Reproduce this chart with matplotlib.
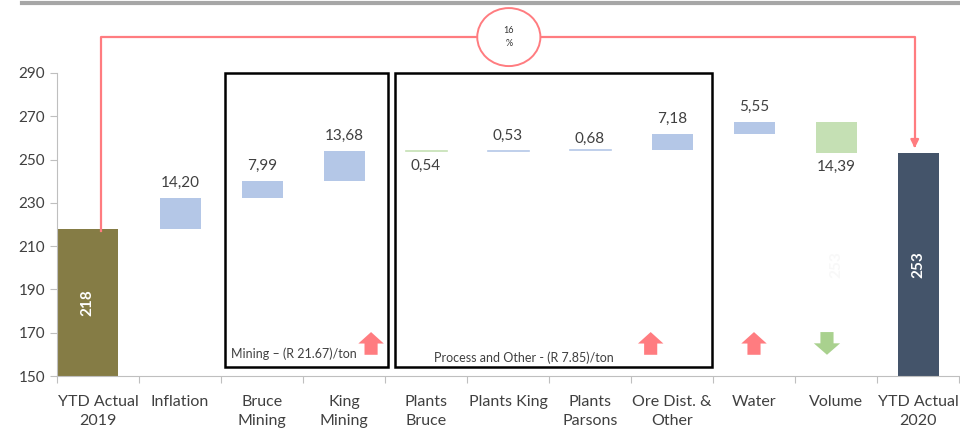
import matplotlib
matplotlib.use("Agg")
from matplotlib import pyplot as plt
from matplotlib.patches import Rectangle, Ellipse, FancyArrow

plt.rcParams['font.family'] = ['Lato', 'DejaVu Sans']

categories = ["YTD Actual\n2019", "Inflation", "Bruce\nMining", "King\nMining",
              "Plants\nBruce", "Plants King", "Plants\nParsons", "Ore Dist. &\nOther",
              "Water", "Volume", "YTD Actual\n2020"]
start_value = 218
end_value = 253
deltas = [14.20, 7.99, 13.68, -0.54, 0.53, 0.68, 7.18, 5.55, -14.39]
delta_labels = ["14,20", "7,99", "13,68", "0,54", "0,53", "0,68", "7,18", "5,55", "14,39"]
growth_label = "16\n%"
mining_note = "Mining – (R 21.67)/ton"
process_note = "Process and Other - (R 7.85)/ton"
# direction markers under the driver columns
arrow_dirs = ['up', 'up', 'up', 'down']

text_col = '#404040'
blue = '#b4c7e7'
green = '#c5e0b4'
red = '#ff7c80'
arrow_green = '#a9d18e'

fig = plt.figure(figsize=(9.6, 4.3), dpi=100)
ax = fig.add_axes([57 / 960, 54 / 430, 902 / 960, 303 / 430])
ax.set_xlim(-0.5, 10.5)
ax.set_ylim(150, 290)

# start and end totals
ax.bar(-0.125, start_value - 150, bottom=150, width=0.73, color='#857c45', zorder=2)
ax.bar(10, end_value - 150, bottom=150, width=0.5, color='#44546a', zorder=2)
ax.text(-0.125, (start_value + 150) / 2, str(start_value), rotation=90, color='white',
        ha='center', va='center', fontsize=11, fontweight='bold')
ax.text(10, (end_value + 150) / 2, str(end_value), rotation=90, color='white',
        ha='center', va='center', fontsize=11, fontweight='bold')
# hidden total label left behind on the volume column
ax.text(9, (end_value + 150) / 2, str(end_value), rotation=90, color='#f8f8f8',
        ha='center', va='center', fontsize=11, fontweight='bold')

# floating delta bars
level = start_value
for i, (d, lab) in enumerate(zip(deltas, delta_labels), start=1):
    lo, hi = min(level, level + d), max(level, level + d)
    col = blue if d > 0 else green
    h = hi - lo
    if h < 1:
        ax.plot([i - 0.25, i + 0.25], [hi, hi], color=col, lw=1.2, zorder=2)
    else:
        ax.bar(i, h, bottom=lo, width=0.5, color=col, zorder=2)
    if d > 0:
        off = 3 if h < 1 and i == 6 else 6
        ax.annotate(lab, (i, hi), xytext=(0, off), textcoords='offset points',
                    ha='center', va='bottom', fontsize=11, color=text_col)
    else:
        ax.annotate(lab, (i, lo), xytext=(0, -5), textcoords='offset points',
                    ha='center', va='top', fontsize=11, color=text_col)
    level += d

# group boxes
ax.add_patch(Rectangle((1.55, 154.2), 1.99, 135.8, fill=False, ec='black', lw=1.8,
                       zorder=3, clip_on=False))
ax.add_patch(Rectangle((3.62, 154.2), 3.87, 135.8, fill=False, ec='black', lw=1.8,
                       zorder=3, clip_on=False))
ax.text(1.62, 160.3, mining_note, fontsize=9, color=text_col, va='center', ha='left')
ax.text(4.1, 158.6, process_note, fontsize=9, color=text_col, va='center', ha='left')

# driver arrows
arrow_x = [3.33, 6.74, 8.0, 8.89]
for x, direction in zip(arrow_x, arrow_dirs):
    if direction == 'up':
        ax.add_patch(FancyArrow(x, 159.8, 0, 10.5, width=0.16, head_width=0.31,
                                head_length=5.3, length_includes_head=True,
                                color=red, lw=0, zorder=4))
    else:
        ax.add_patch(FancyArrow(x, 170.3, 0, -10.5, width=0.16, head_width=0.32,
                                head_length=5.3, length_includes_head=True,
                                color=arrow_green, lw=0, zorder=4))

# growth bracket
top_y = 306.6
ax.plot([0.037, 0.037, 4.63], [217.0, top_y, top_y], color=red, lw=1.6,
        clip_on=False, zorder=5)
ax.plot([5.39, 9.96, 9.96], [top_y, top_y, 257.5], color=red, lw=1.6,
        clip_on=False, zorder=5)
ax.annotate('', xy=(9.96, 254.0), xytext=(9.96, 258.5),
            arrowprops=dict(arrowstyle='-|>', color=red, lw=1.6, mutation_scale=12),
            annotation_clip=False)
ax.add_patch(Ellipse((5.01, top_y), 0.77, 26.8, fill=True, fc='white', ec=red,
                     lw=1.4, clip_on=False, zorder=6))
ax.text(5.01, top_y, growth_label, ha='center', va='center', fontsize=6.5,
        color='#333333', zorder=7, linespacing=1.6)

# top rule
fig.add_artist(plt.Line2D([22 / 960, 1], [427 / 430, 427 / 430], color='#a6a6a6', lw=3))

# axes styling
for s in ['top', 'right']:
    ax.spines[s].set_visible(False)
for s in ['left', 'bottom']:
    ax.spines[s].set_color('#bfbfbf')
ax.set_yticks(range(150, 291, 20))
ax.tick_params(axis='y', colors='#bfbfbf', labelcolor=text_col, labelsize=11, length=5)
ax.set_xticks([i - 0.5 for i in range(12)])
ax.set_xticklabels([])
ax.tick_params(axis='x', which='major', colors='#bfbfbf', length=5)
ax.set_xticks(range(11), minor=True)
ax.set_xticklabels(categories, minor=True, fontsize=11.5, color=text_col, linespacing=1.45)
ax.tick_params(axis='x', which='minor', length=0, pad=14)

fig.savefig('out.png', dpi=100)
